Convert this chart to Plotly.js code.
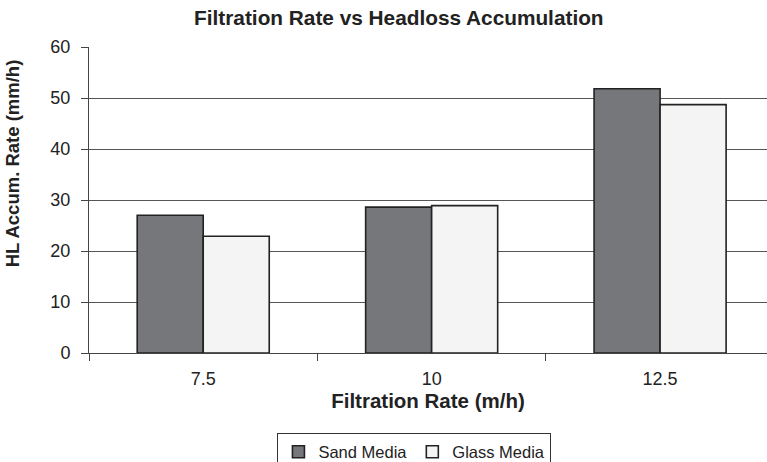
<!DOCTYPE html>
<html>
<head>
<meta charset="utf-8">
<script src="https://cdn.plot.ly/plotly-3.0.1.min.js"></script>
<style>html,body{margin:0;padding:0;background:#fff;}#chart{width:767px;height:462px;}</style>
</head>
<body>
<div id="chart"></div>
<script>
const categories = ["7.5", "10", "12.5"];
const sandMedia = [27.0, 28.6, 51.8];
const glassMedia = [22.9, 28.9, 48.7];
const seriesNames = ["Sand Media", "Glass Media"];
const yTicks = [0, 10, 20, 30, 40, 50, 60];

const FONT = "'Liberation Sans', Arial, Helvetica, sans-serif";

const traces = [
  {
    type: "bar", name: seriesNames[0], x: categories, y: sandMedia,
    marker: {color: "#76777b", line: {color: "#222", width: 1.6}}
  },
  {
    type: "bar", name: seriesNames[1], x: categories, y: glassMedia,
    marker: {color: "#f3f4f3", line: {color: "#222", width: 1.6}}
  }
];

const layout = {
  width: 767, height: 462,
  margin: {l: 89, r: 0, t: 46.5, b: 109.3, pad: 0, autoexpand: false},
  paper_bgcolor: "#fff", plot_bgcolor: "#fff",
  font: {family: FONT, color: "#222", size: 18},
  title: {text: "<b>Filtration Rate vs Headloss Accumulation</b>", x: 0.52, xanchor: "center", y: 0.962, yanchor: "middle", font: {size: 20.8, family: FONT, color: "#222"}},
  barmode: "group", bargap: 0.422, bargroupgap: 0,
  showlegend: true,
  legend: {
    orientation: "h", x: 0.48, xanchor: "center", xref: "paper",
    y: -0.263, yanchor: "top",
    bordercolor: "#333", borderwidth: 1, bgcolor: "#fff",
    font: {size: 16.5, family: FONT, color: "#222"},
    itemwidth: 30, traceorder: "normal"
  },
  xaxis: {
    type: "category", range: [-0.5, 2.468], automargin: false,
    tickson: "boundaries", ticks: "outside", ticklen: 7, tickcolor: "#444", tickwidth: 1,
    showline: true, linecolor: "#444", linewidth: 1,
    showgrid: false, zeroline: false,
    ticklabelstandoff: 9,
    tickfont: {size: 18, family: FONT, color: "#222"},
    title: {text: "<b>Filtration Rate (m/h)</b>", font: {size: 20.5, family: FONT, color: "#222"}, standoff: 6}
  },
  yaxis: {
    range: [0, 60], tickvals: yTicks, ticktext: yTicks.map(String), automargin: false,
    ticks: "outside", ticklen: 7, tickcolor: "#444", tickwidth: 1,
    showline: true, linecolor: "#444", linewidth: 1,
    showgrid: true, gridcolor: "#555", gridwidth: 1, zeroline: false,
    ticklabelstandoff: 7,
    tickfont: {size: 18, family: FONT, color: "#222"}
  },
  annotations: [
    {
      text: "<b>HL Accum. Rate (mm/h)</b>", textangle: -90,
      xref: "paper", yref: "paper", x: -0.1135, y: 0.62,
      xanchor: "center", yanchor: "middle", showarrow: false,
      font: {size: 18.5, family: FONT, color: "#222"}
    }
  ]
};

Plotly.newPlot("chart", traces, layout, {displayModeBar: false, staticPlot: true});
</script>
</body>
</html>
